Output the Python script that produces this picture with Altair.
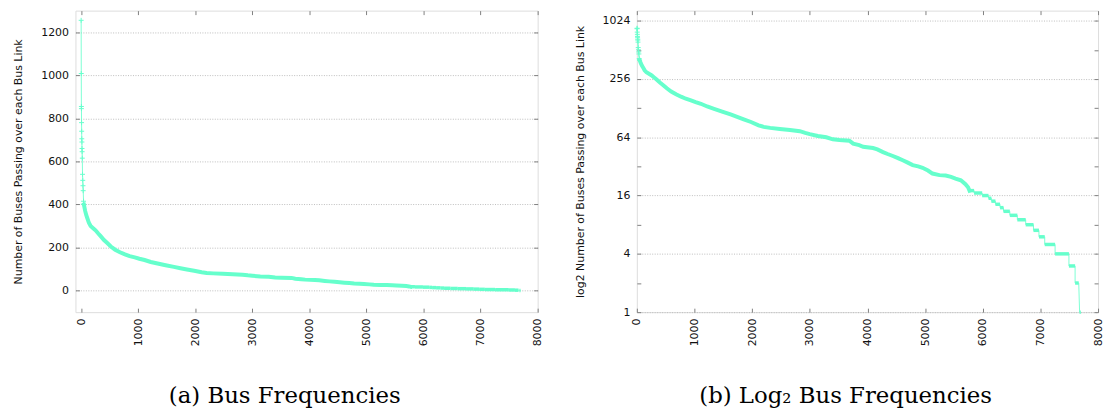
import altair as alt
import pandas as pd

# ---------------- data ----------------
# rank of the bus link (sorted by frequency) and number of buses on it
peak_rank = [0, 2]                 # two highest links (only visible in the linear panel)
peak_buses = [1255, 1008]

head_rank = [4, 5, 7, 9, 11, 13, 15, 17, 20, 24, 28, 32, 36, 42, 48]
head_buses = [855, 845, 780, 740, 705, 690, 660, 645, 615, 540, 512, 487, 464, 415, 400]

body_rank = [48, 70, 90, 110, 135, 166, 210, 252, 300, 338, 400, 453, 520, 596, 680,
             767, 850, 939, 1020, 1111, 1220, 1339, 1480, 1626, 1740, 1854, 1980, 2112,
             2200, 2313, 2480, 2656, 2827, 2920, 3000, 3140, 3286, 3400, 3514, 3686,
             3753, 3857, 3925, 4097, 4172, 4270, 4350, 4441, 4530, 4613, 4700, 4785,
             4880, 4956, 5050, 5128, 5250, 5357, 5450, 5528, 5620, 5700, 5745, 5770]
body_buses = [400, 370, 350, 335, 315, 300, 290, 280, 265, 254, 235, 222, 205, 190, 178,
              168, 160, 154, 148, 142, 133, 126, 118, 110, 104, 98, 92, 85,
              82, 80, 78, 76, 74, 71, 69, 66, 64, 61, 60, 59,
              55, 53, 51, 49.5, 48, 45, 43, 41, 39, 37, 35, 33,
              32, 31, 29, 27, 26, 25.8, 25, 24, 23, 21, 19.5, 18]

tail_buses = [18, 17, 16, 15, 14, 13, 12, 11, 10, 9, 8, 7, 6, 5, 4, 3, 2, 1]
tail_start = [5770, 5850, 5990, 6100, 6150, 6220, 6300, 6360, 6470, 6600, 6745, 6880,
              6975, 7075, 7255, 7495, 7602, 7680]
tail_end = [5850, 5990, 6100, 6150, 6220, 6300, 6360, 6470, 6600, 6745, 6880, 6975,
            7075, 7255, 7495, 7602, 7665, 7700]

x_ticks = [0, 1000, 2000, 3000, 4000, 5000, 6000, 7000, 8000]
lin_ticks = [0, 200, 400, 600, 800, 1000, 1200]
log_ticks = [1, 2, 4, 8, 16, 32, 64, 128, 256, 512, 1024]

y_titles = ["Number of Buses Passing over each Bus Link",
            "log2 Number of Buses Passing over each Bus Link"]
captions = ["(a) Bus Frequencies", "(b) Log\u2082 Bus Frequencies"]

# ---------------- tables ----------------
def path_table(with_peak):
    r, b = [], []
    if with_peak:
        r += peak_rank; b += peak_buses
    r += head_rank; b += head_buses
    r += body_rank; b += body_buses
    for s, e, v in zip(tail_start, tail_end, tail_buses):
        r += [s, e]; b += [v, v]
    return pd.DataFrame({"rank": r, "buses": b})

def marker_table(with_peak):
    r = (peak_rank if with_peak else []) + head_rank
    b = (peak_buses if with_peak else []) + head_buses
    return pd.DataFrame({"rank": r, "buses": b})

body_df = pd.DataFrame({"rank": body_rank, "buses": body_buses})
tail_df = pd.DataFrame({"start": tail_start, "end": tail_end, "buses": tail_buses})

C = "#66ffcc"
FRAME = "#808080"
PLUS = "M-1,0L1,0M0,-1L0,1"
H = 304

tick_style = dict(domain=False, tickColor=FRAME, tickSize=4, offset=-4, tickWidth=1)
label_style = dict(labelFont="DejaVu Sans", labelFontSize=11, labelColor="#111", format="d")


def panel(path_df, mark_df, x_scale, y_scale, y_vals, y_title, caption, width, log=False):
    label_expr = "round(log(datum.value)/LN2) % 2 == 0 ? datum.label : ''" if log else "datum.label"
    grid_op = ({"condition": {"test": "round(log(datum.value)/LN2) % 2 == 0", "value": 1}, "value": 0}
               if log else 1)
    x_main = alt.Axis(orient="bottom", values=x_ticks, labelAngle=-90, labelPadding=6,
                      grid=False, title=None, **tick_style, **label_style)
    y_main = alt.Axis(orient="left", values=y_vals, labelPadding=7, labelExpr=label_expr,
                      grid=True, gridColor="#bdbdbd", gridDash=[1, 1.5], gridWidth=1,
                      gridOpacity=grid_op,
                      title=y_title, titleFont="DejaVu Sans", titleFontSize=11,
                      titleFontWeight="normal", titleColor="#111", titlePadding=17,
                      **tick_style, **label_style)
    x_mirror = alt.Axis(orient="top", values=x_ticks, labels=False, grid=False, title=None, **tick_style)
    y_mirror = alt.Axis(orient="right", values=y_vals, labels=False, grid=False, title=None, **tick_style)

    thin = alt.Chart(path_df).mark_line(color=C, strokeWidth=1, opacity=0.85).encode(
        x=alt.X("rank:Q", scale=x_scale, axis=x_main),
        y=alt.Y("buses:Q", scale=y_scale, axis=y_main),
        order="rank:Q",
    )
    band = alt.Chart(body_df).mark_line(color=C, strokeWidth=4, strokeCap="square").encode(
        x=alt.X("rank:Q", scale=x_scale, axis=x_mirror),
        y=alt.Y("buses:Q", scale=y_scale, axis=y_mirror),
        order="rank:Q",
    )
    runs = alt.Chart(tail_df).mark_rule(color=C, strokeWidth=3.5).encode(
        x=alt.X("start:Q", scale=x_scale, axis=None),
        x2="end:Q",
        y=alt.Y("buses:Q", scale=y_scale, axis=None),
    )
    pts = alt.Chart(mark_df).mark_point(shape=PLUS, size=25, color=C, strokeWidth=1,
                                        filled=False, opacity=1).encode(
        x=alt.X("rank:Q", scale=x_scale, axis=None),
        y=alt.Y("buses:Q", scale=y_scale, axis=None),
    )
    return alt.layer(thin, band, runs, pts).resolve_axis(x="independent", y="independent").properties(
        width=width, height=H,
        title=alt.TitleParams(caption, orient="bottom", anchor="middle", dx=-22, offset=40,
                              font="DejaVu Serif", fontSize=23, fontWeight="normal", color="#000"),
    )


left = panel(path_table(True), marker_table(True),
             alt.Scale(domain=[-100, 8000], nice=False, zero=False),
             alt.Scale(domain=[-100, 1300], nice=False, zero=False),
             lin_ticks, y_titles[0], captions[0], 466)
right = panel(path_table(False), marker_table(False),
              alt.Scale(domain=[0, 8000], nice=False, zero=False),
              alt.Scale(type="log", base=2, domain=[1, 1300], nice=False),
              log_ticks, y_titles[1], captions[1], 465, log=True)

chart = alt.hconcat(left, right, spacing=100, bounds="flush").properties(
    padding={"left": 4, "top": 0, "right": 0, "bottom": 0}
).configure_view(stroke=FRAME, strokeWidth=1).configure(background="white")

chart.save("out.html", embed_options={"renderer": "svg", "actions": False})
